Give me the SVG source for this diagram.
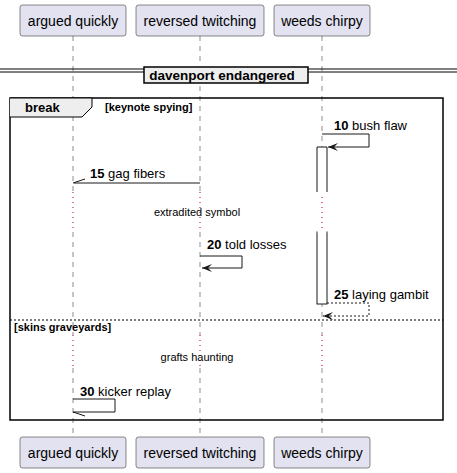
<svg xmlns="http://www.w3.org/2000/svg" width="457" height="473" viewBox="0 0 457 473">
<style>
text{font-family:"Liberation Sans",Arial,sans-serif;fill:#000}
.p rect{fill:#E2E2F0;stroke:#181818;stroke-width:0.5}
.p text{font-size:14px}
.life{stroke:#181818;stroke-width:0.5;stroke-dasharray:5,5;fill:none}
.delay{stroke:#A80036;stroke-width:1;stroke-dasharray:1,4;fill:none}
.msg{stroke:#181818;stroke-width:1;fill:none}
.dash{stroke-dasharray:2,2}
.lbl{font-size:13px}
.num{font-weight:bold}
.note{font-size:11px}
.act{fill:#FFFFFF;stroke:#181818;stroke-width:1}
</style>
<defs>
<marker id="ah" markerWidth="10" markerHeight="8" refX="10" refY="4" orient="auto" markerUnits="userSpaceOnUse" viewBox="0 0 10 8">
<path d="M10,4 L0,0 L4,4 L0,8 Z" fill="#181818"/>
</marker>
</defs>
<g id="lifelines">
<line class="life" x1="73" y1="36" x2="73" y2="192"/>
<line class="life" x1="73" y1="232" x2="73" y2="335"/>
<line class="life" x1="73" y1="368" x2="73" y2="437"/>
<line class="life" x1="200" y1="36" x2="200" y2="192"/>
<line class="life" x1="200" y1="232" x2="200" y2="335"/>
<line class="life" x1="200" y1="368" x2="200" y2="437"/>
<line class="life" x1="322" y1="36" x2="322" y2="192"/>
<line class="life" x1="322" y1="232" x2="322" y2="335"/>
<line class="life" x1="322" y1="368" x2="322" y2="437"/>
<line class="delay" x1="73" y1="192" x2="73" y2="232"/>
<line class="delay" x1="200" y1="192" x2="200" y2="232"/>
<line class="delay" x1="322" y1="192" x2="322" y2="232"/>
<line class="delay" x1="73" y1="335" x2="73" y2="368"/>
<line class="delay" x1="200" y1="335" x2="200" y2="368"/>
<line class="delay" x1="322" y1="335" x2="322" y2="368"/>
</g>
<g id="divider">
<line x1="0" y1="69" x2="457" y2="69" stroke="#000" stroke-width="1"/>
<line x1="0" y1="72" x2="457" y2="72" stroke="#000" stroke-width="1"/>
<rect x="144" y="67" width="164" height="16" fill="#EEEEEE" stroke="#000" stroke-width="1.5"/>
<text x="222" y="80" font-size="13.5" font-weight="bold" text-anchor="middle">davenport endangered</text>
</g>
<g id="frame">
<rect x="10" y="98" width="433" height="322" fill="none" stroke="#000" stroke-width="1.5"/>
<path d="M10,98 L92,98 L92,107 L82,117 L10,117" fill="#EEEEEE" stroke="#000" stroke-width="1"/>
<text x="25" y="112" font-size="13" font-weight="bold">break</text>
<text x="105" y="111" font-size="11" font-weight="bold">[keynote spying]</text>
<line x1="10" y1="320" x2="443" y2="320" stroke="#000" stroke-width="1" stroke-dasharray="2,2"/>
<text x="14" y="331" font-size="11" font-weight="bold">[skins graveyards]</text>
</g>
<g id="activations">
<rect x="317" y="147" width="10" height="46" fill="#FFFFFF" stroke="none"/>
<line x1="317" y1="147" x2="327" y2="147" stroke="#181818"/>
<line x1="317" y1="147" x2="317" y2="192" stroke="#181818"/>
<line x1="327" y1="147" x2="327" y2="192" stroke="#181818"/>
<rect class="act" x="317" y="232" width="10" height="72"/>
<rect x="317.5" y="231" width="9" height="2" fill="#FFFFFF" stroke="none"/>
</g>
<g id="connectors">
<polyline class="msg" points="322,134 369,134 369,147 328,147" marker-end="url(#ah)"/>
<line class="msg" x1="200" y1="183" x2="74" y2="183"/>
<line class="msg" x1="73" y1="183" x2="85" y2="179"/>
<polyline class="msg" points="200,256 242,256 242,268 202,268" marker-end="url(#ah)"/>
<polyline class="msg dash" points="327,303 369,303 369,316 323,316" marker-end="url(#ah)"/>
<polyline class="msg" points="73,399 115,399 115,412 73,412"/>
<line class="msg" x1="73" y1="412" x2="85" y2="416"/>
</g>
<g id="labels">
<text class="lbl" x="334" y="130"><tspan class="num">10</tspan> bush flaw</text>
<text class="lbl" x="90" y="178"><tspan class="num">15</tspan> gag fibers</text>
<text class="note" x="197" y="216" text-anchor="middle">extradited symbol</text>
<text class="lbl" x="207" y="249"><tspan class="num">20</tspan> told losses</text>
<text class="lbl" x="334" y="299"><tspan class="num">25</tspan> laying gambit</text>
<text class="note" x="197" y="361" text-anchor="middle">grafts haunting</text>
<text class="lbl" x="80" y="396"><tspan class="num">30</tspan> kicker replay</text>
</g>
<g id="p1" class="p"><rect x="20" y="5" width="106" height="31" rx="2.5"/><text x="73" y="26" text-anchor="middle">argued quickly</text></g>
<g id="p2" class="p"><rect x="136" y="5" width="128" height="31" rx="2.5"/><text x="200" y="26" text-anchor="middle">reversed twitching</text></g>
<g id="p3" class="p"><rect x="274" y="5" width="96" height="31" rx="2.5"/><text x="322" y="26" text-anchor="middle">weeds chirpy</text></g>
<g id="p1b" class="p"><rect x="20" y="437" width="106" height="31" rx="2.5"/><text x="73" y="458" text-anchor="middle">argued quickly</text></g>
<g id="p2b" class="p"><rect x="136" y="437" width="128" height="31" rx="2.5"/><text x="200" y="458" text-anchor="middle">reversed twitching</text></g>
<g id="p3b" class="p"><rect x="274" y="437" width="96" height="31" rx="2.5"/><text x="322" y="458" text-anchor="middle">weeds chirpy</text></g>
</svg>
